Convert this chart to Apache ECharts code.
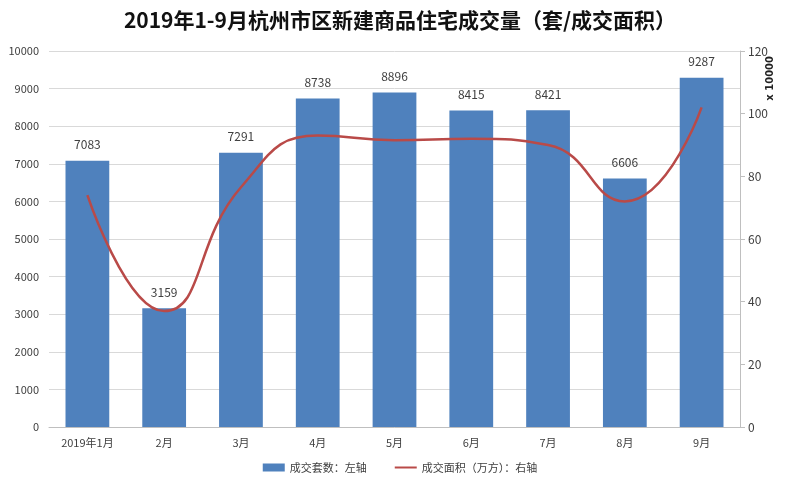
<!DOCTYPE html>
<html>
<head>
<meta charset="utf-8">
<script src="https://cdn.jsdelivr.net/npm/echarts@6/dist/echarts.min.js"></script>
<style>
  html, body { margin: 0; padding: 0; background: #fff; }
  #c { width: 800px; height: 486px; }
</style>
</head>
<body>
<div id="c"></div>
<script>
const months = ['2019年1月', '2月', '3月', '4月', '5月', '6月', '7月', '8月', '9月']
const units = [7083, 3159, 7291, 8738, 8896, 8415, 8421, 6606, 9287]
const area = [74, 37, 76.5, 93, 91.5, 92, 90, 72, 102]

const FONT = 'Noto Sans CJK SC, Noto Sans, sans-serif'
const AX = '#404040'
const chart = echarts.init(document.getElementById('c'), null, { renderer: 'canvas' })
chart.setOption({
  animation: false,
  textStyle: { fontFamily: FONT },
  title: {
    text: '2019年1-9月杭州市区新建商品住宅成交量（套/成交面积）',
    left: 'center', top: 5,
    textStyle: { fontSize: 21, fontWeight: 'bold', color: '#111', fontFamily: FONT },
  },
  grid: { left: 49, right: 60, top: 51, bottom: 59 },
  legend: {
    bottom: 8, left: 'center', itemGap: 28, itemWidth: 22, itemHeight: 8,
    textStyle: { fontSize: 11, color: AX },
    data: [
      { name: '成交套数：左轴', icon: 'rect' },
      { name: '成交面积（万方）：右轴', icon: 'path://M0,0 L0,0 M0,3 L22,3 L22,5 L0,5 Z M22,8 L22,8' },
    ],
  },
  xAxis: {
    type: 'category', data: months,
    axisLine: { lineStyle: { color: '#bfbfbf' } },
    axisTick: { show: false },
    axisLabel: { color: AX, fontSize: 11, margin: 10 },
  },
  yAxis: [
    {
      type: 'value', min: 0, max: 10000, interval: 1000,
      axisLine: { show: false }, axisTick: { show: false },
      axisLabel: { color: AX, fontSize: 11, margin: 10, formatter: (v) => String(v) },
      splitLine: { lineStyle: { color: '#d9d9d9' } },
    },
    {
      type: 'value', min: 0, max: 120, interval: 20,
      axisLine: { show: true, lineStyle: { color: '#bfbfbf' } },
      axisTick: { show: true, length: 5, lineStyle: { color: '#bfbfbf' } },
      axisLabel: { color: AX, fontSize: 12, margin: 8 },
      splitLine: { show: false },
    },
  ],
  graphic: [{
    type: 'text', left: 765, top: 56, rotation: Math.PI / 2,
    style: { text: 'x 10000', fontSize: 10, fontWeight: 'bold', fill: '#222', fontFamily: 'DejaVu Sans' },
  }],
  series: [
    {
      name: '成交套数：左轴', type: 'bar', data: units, barWidth: '57%',
      itemStyle: { color: '#4f81bd' },
      label: { show: true, position: 'top', distance: 10, color: AX, fontSize: 12 },
    },
    {
      name: '成交面积（万方）：右轴', type: 'line', yAxisIndex: 1, data: area,
      smooth: 0.5, showSymbol: false, symbol: 'none',
      lineStyle: { color: '#b94a48', width: 2.5 },
      itemStyle: { color: '#b94a48' },
    },
  ],
})
</script>
</body>
</html>
